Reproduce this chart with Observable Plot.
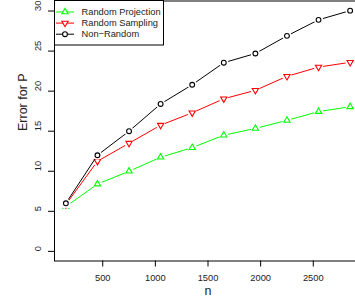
<!DOCTYPE html>
<html>
<head>
<meta charset="utf-8">
<script src="https://cdn.jsdelivr.net/npm/d3@7"></script>
<script src="https://cdn.jsdelivr.net/npm/@observablehq/plot@0.6"></script>
<style>
  html, body { margin: 0; padding: 0; background: #fff; }
  #chart { position: relative; width: 355px; height: 302px; overflow: hidden; }
</style>
</head>
<body>
<div id="chart"></div>
<script>
// ---- data ----
const n = [150, 450, 750, 1050, 1350, 1650, 1950, 2250, 2550, 2850];
const randomProjection = [5.6, 8.4, 10.0, 11.75, 12.95, 14.5, 15.35, 16.35, 17.45, 18.05];
const randomSampling   = [5.85, 11.25, 13.5, 15.75, 17.3, 19.05, 20.1, 21.85, 23.0, 23.6];
const nonRandom        = [6.0, 12.0, 15.0, 18.4, 20.8, 23.55, 24.7, 26.9, 28.9, 30.05];
const seriesNames = ["Random Projection", "Random Sampling", "Non\u2212Random"];
const seriesColors = ["#00ff00", "#ff0000", "#000000"];
const xTicks = [500, 1000, 1500, 2000, 2500];
const yTicks = [0, 5, 10, 15, 20, 25, 30];
const xLabel = "n";
const yLabel = "Error for P";

// ---- symbols (R pch 2, pch 6, pch 1) ----
const triUp = {
  draw(ctx, size) {
    const R = Math.sqrt(size / Math.PI) * 1.25;
    const c = R * Math.sqrt(3) / 2;
    ctx.moveTo(0, -R); ctx.lineTo(c, R / 2); ctx.lineTo(-c, R / 2); ctx.closePath();
  }
};
const triDown = {
  draw(ctx, size) {
    const R = Math.sqrt(size / Math.PI) * 1.25;
    const c = R * Math.sqrt(3) / 2;
    ctx.moveTo(0, R); ctx.lineTo(c, -R / 2); ctx.lineTo(-c, -R / 2); ctx.closePath();
  }
};
const symbols = [triUp, triDown, "circle"];
const symbolR = [2.9, 2.9, 2.4];

const allValues = [randomProjection, randomSampling, nonRandom];
const series = seriesNames.map((name, i) => ({
  name, color: seriesColors[i], symbol: symbols[i], r: symbolR[i],
  rows: n.map((x, j) => ({ n: x, v: allValues[i][j] }))
}));

// R-style 4% axis padding
const pad = ([lo, hi]) => [lo - (hi - lo) * 0.04, hi + (hi - lo) * 0.04];
const xDomain = pad(d3.extent(n));
const yDomain = pad([0, d3.max(nonRandom)]);

const font = "'Liberation Sans', Arial, Helvetica, sans-serif";

const marks = [];
marks.push(Plot.frame({ stroke: "black", strokeWidth: 1 }));
marks.push(Plot.axisX(xTicks, { tickSize: 6, tickPadding: 7, fontSize: 9.3, label: null, stroke: "black", fill: "#222", tickFormat: d => String(d) }));
marks.push(Plot.axisY(yTicks, { tickSize: 6, tickFormat: () => "", label: null, stroke: "black" }));
marks.push(Plot.text(yTicks, { y: d => d, text: d => String(d), frameAnchor: "left", dx: -16, rotate: -90, fontSize: 9.3, fill: "#222" }));
marks.push(Plot.text([xLabel], { frameAnchor: "bottom", dy: 34, fontSize: 12.5, fill: "#222" }));
marks.push(Plot.text([yLabel], { frameAnchor: "left", dx: -32, rotate: -90, fontSize: 12.5, fill: "#222" }));
for (const s of series) {
  marks.push(Plot.line(s.rows, { x: "n", y: "v", stroke: s.color, strokeWidth: 1 }));
  marks.push(Plot.dot(s.rows, { x: "n", y: "v", r: 4.6, fill: "white", stroke: null }));
  marks.push(Plot.dot(s.rows, { x: "n", y: "v", r: s.r, symbol: s.symbol, stroke: s.color, strokeWidth: 1.1, fill: "none" }));
}

const svg = Plot.plot({
  width: 355,
  height: 302,
  marginLeft: 54,
  marginRight: -6,
  marginTop: 0.5,
  marginBottom: 41.5,
  x: { domain: xDomain },
  y: { domain: yDomain },
  style: { fontFamily: font, background: "white", overflow: "hidden" },
  marks
});

// ---- legend (R legend box, top-left inside plot) ----
const g = d3.select(svg).append("g").attr("font-family", font).attr("font-size", 9.3)
  .attr("text-anchor", "start");
g.append("rect").attr("x", 54.5).attr("y", 0.5).attr("width", 109).attr("height", 44.5)
  .attr("fill", "white").attr("stroke", "black");
series.forEach((s, i) => {
  const y = 12 + i * 11.1;
  g.append("line").attr("x1", 56).attr("x2", 74).attr("y1", y).attr("y2", y)
    .attr("stroke", s.color).attr("stroke-width", 1);
  const sym = typeof s.symbol === "string" ? d3.symbolCircle : s.symbol;
  g.append("path").attr("transform", `translate(65,${y})`)
    .attr("d", d3.symbol(sym, s.r * s.r * Math.PI)())
    .attr("fill", "white").attr("stroke", s.color).attr("stroke-width", 1.1);
  g.append("text").attr("x", 81.5).attr("y", y).attr("dy", "0.35em")
    .attr("text-anchor", "start").attr("fill", "#222").text(s.name);
});

document.getElementById("chart").appendChild(svg);
</script>
</body>
</html>
